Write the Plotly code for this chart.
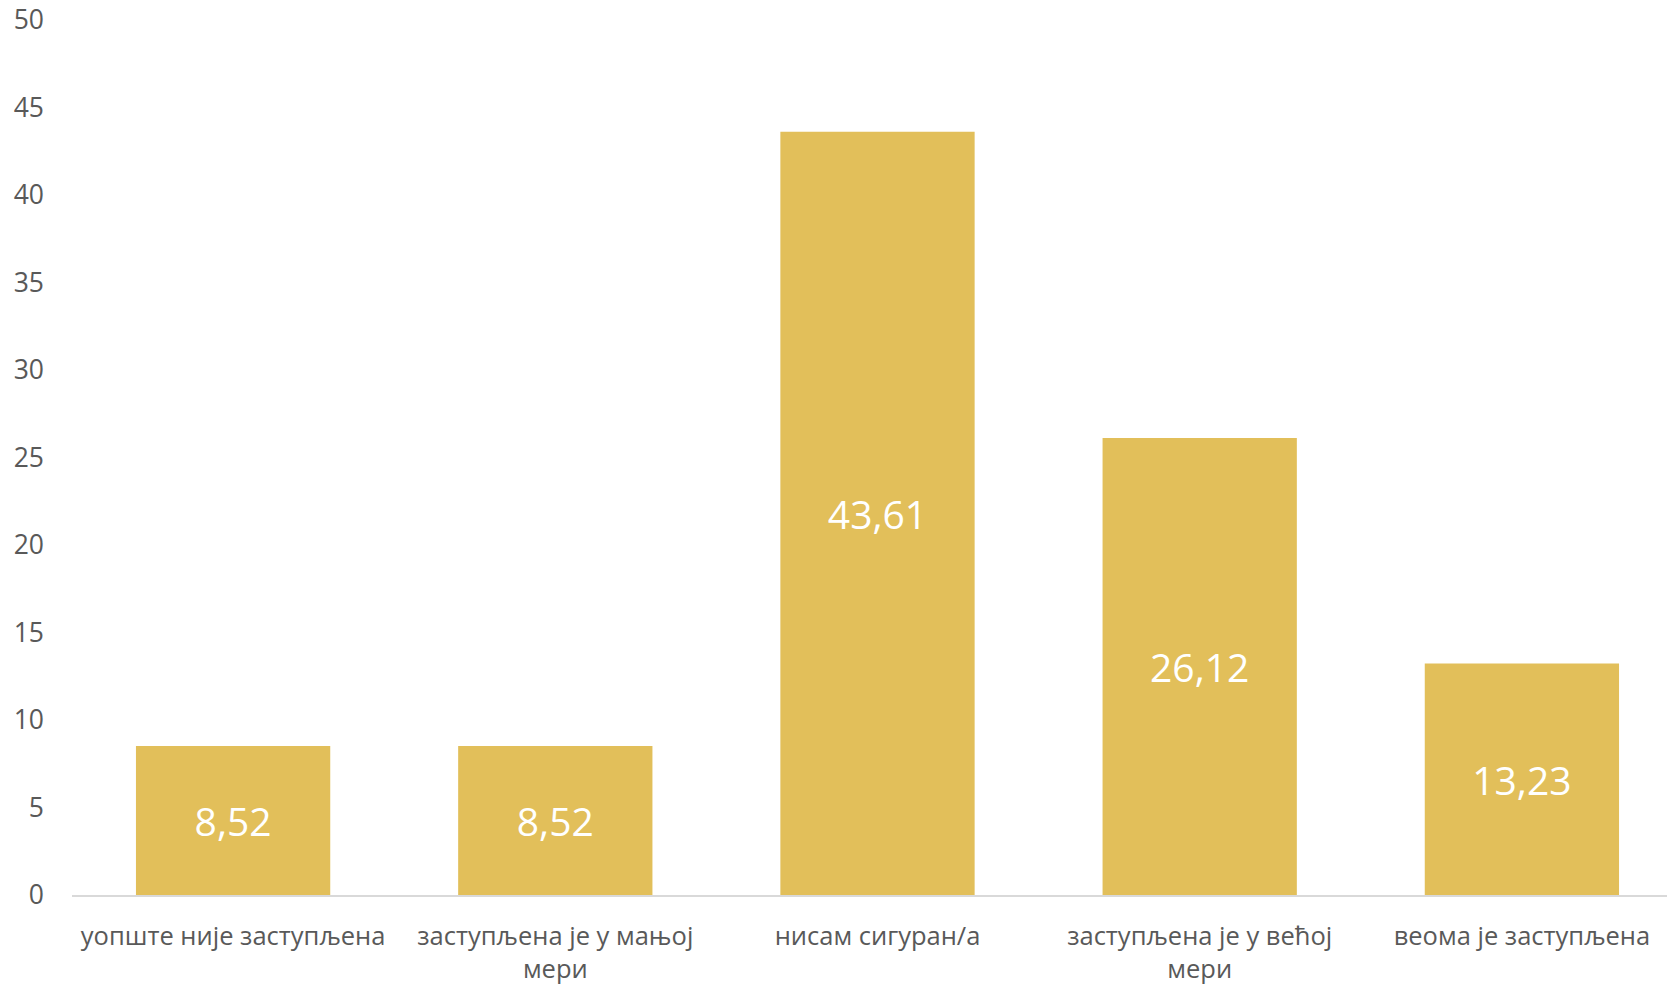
import plotly.graph_objects as go

categories = ["уопште није заступљена", "заступљена је у мањој<br>мери", "нисам сигуран/а",
              "заступљена је у већој<br>мери", "веома је заступљена"]
values = [8.52, 8.52, 43.61, 26.12, 13.23]
labels = ["8,52", "8,52", "43,61", "26,12", "13,23"]
y_ticks = [0, 5, 10, 15, 20, 25, 30, 35, 40, 45, 50]

FONT = "Open Sans, Noto Sans, sans-serif"

fig = go.Figure(go.Bar(
    x=categories, y=values, text=labels,
    marker=dict(color="#E2BF5A", line=dict(width=0)),
    textposition="inside", insidetextanchor="middle",
    textfont=dict(color="white", size=39, family=FONT),
    width=0.603,
))

fig.update_layout(
    width=1675, height=979,
    margin=dict(l=64, r=0, t=12, b=92),
    paper_bgcolor="white", plot_bgcolor="white",
    showlegend=False,
    font=dict(family=FONT, color="#595959", size=24),
)
fig.update_xaxes(
    showline=True, linecolor="#D9D9D9", linewidth=2,
    ticks="", showgrid=False, tickfont=dict(size=25.5, color="#595959"),
    ticklabelstandoff=17, ticklabeloverflow="allow", automargin=False,
)
fig.update_yaxes(
    range=[0, 50], tickvals=y_ticks, showgrid=False, zeroline=False,
    showline=False, ticks="", tickfont=dict(size=26.5, color="#595959"),
    ticklabelstandoff=27, ticklabeloverflow="allow", automargin=False,
)

fig.write_html(
    "out.html",
    post_script="document.querySelectorAll('svg.main-svg').forEach(function(s){s.style.overflow='visible';});",
)
